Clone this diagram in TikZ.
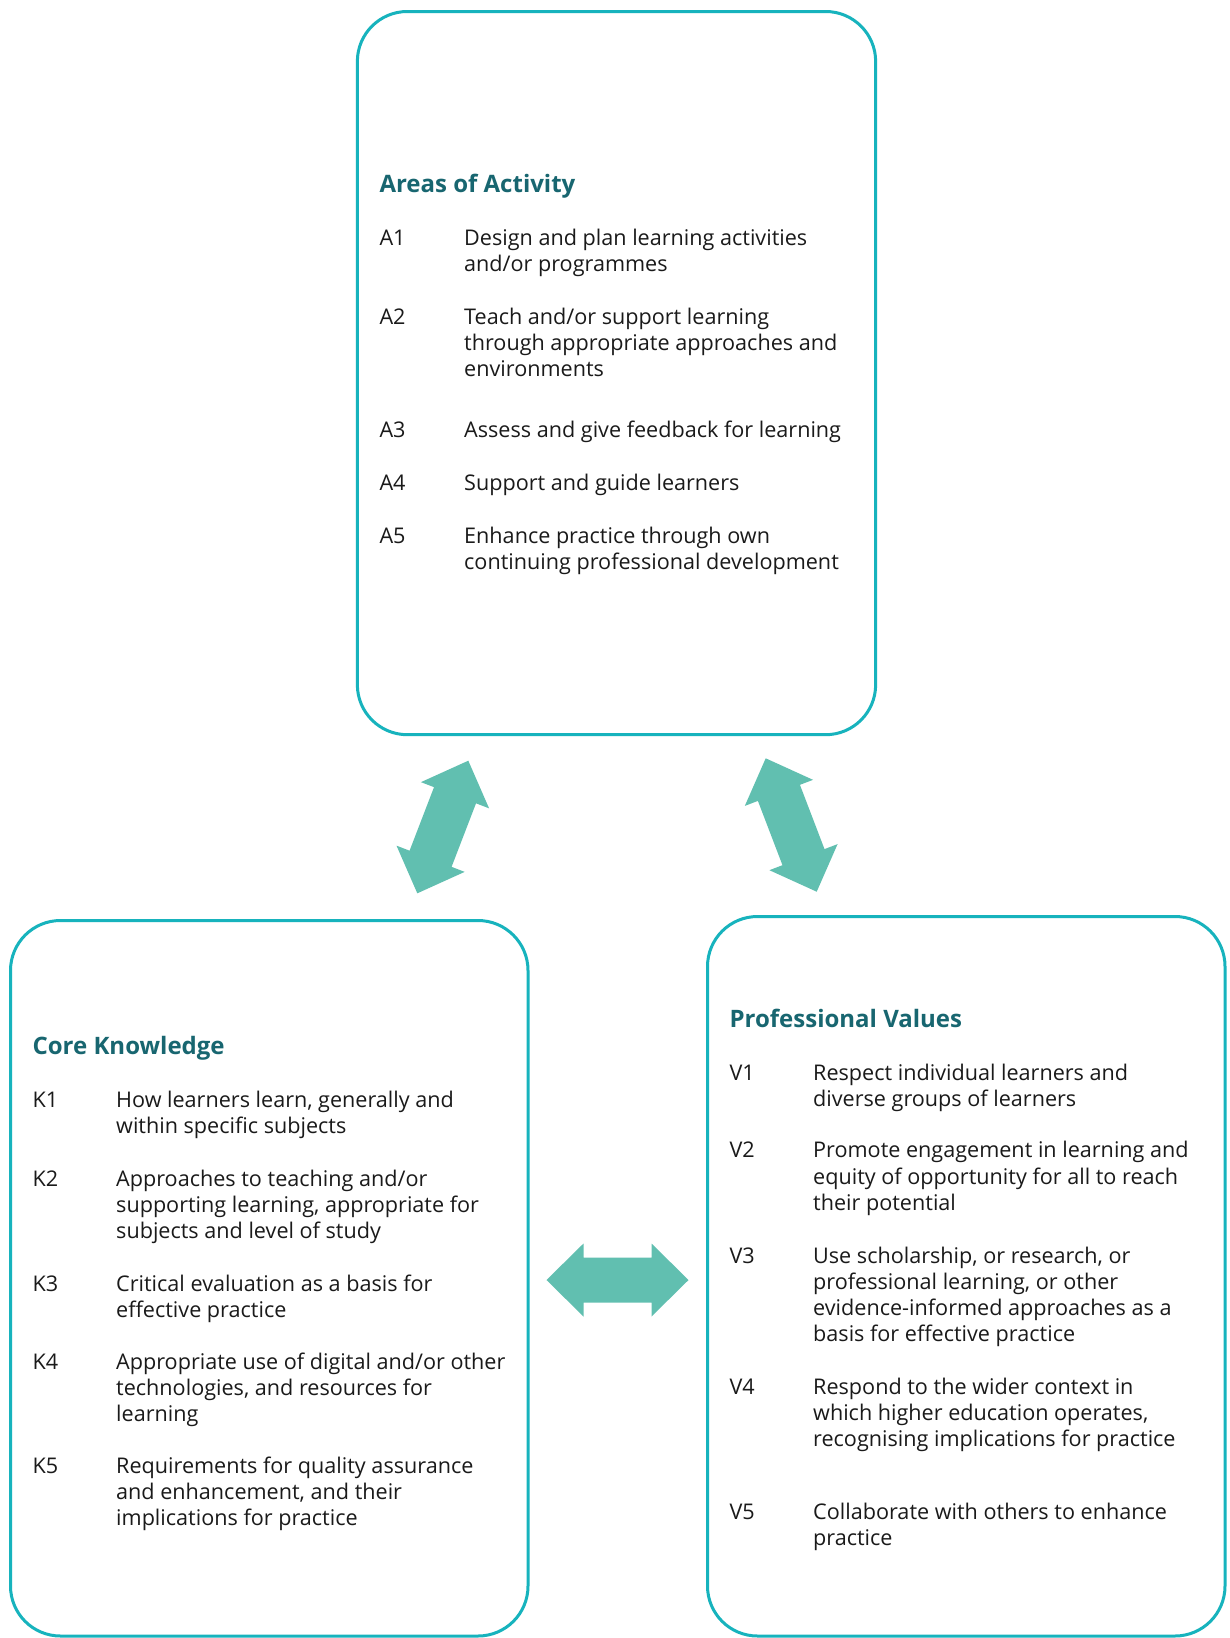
\documentclass[tikz,border=0pt]{standalone}
\usepackage{fontspec}
\setmainfont{Open Sans}
\usetikzlibrary{calc}
\definecolor{boxline}{RGB}{23,179,189}
\definecolor{headc}{RGB}{24,102,112}
\definecolor{arrowc}{RGB}{97,191,176}
\definecolor{textc}{RGB}{26,26,26}
\newcommand{\dblarrow}[2]{%
 \fill[arrowc] (#1)
 -- ($(#1)!37pt!(#2)!36.5pt!90:(#2)$)
 -- ($(#1)!37pt!(#2)!22.5pt!90:(#2)$)
 -- ($(#2)!37pt!(#1)!22.5pt!-90:(#1)$)
 -- ($(#2)!37pt!(#1)!36.5pt!-90:(#1)$)
 -- (#2)
 -- ($(#2)!37pt!(#1)!36.5pt!90:(#1)$)
 -- ($(#2)!37pt!(#1)!22.5pt!90:(#1)$)
 -- ($(#1)!37pt!(#2)!22.5pt!-90:(#2)$)
 -- ($(#1)!37pt!(#2)!36.5pt!-90:(#2)$)
 -- cycle;}
\newcommand{\lines}[1]{\parbox[t]{440pt}{#1}}
\begin{document}
\begin{tikzpicture}[x=1pt,y=-1pt,
  areabox/.style={draw=boxline, line width=3pt, rounded corners=50pt, fill=none, inner sep=0pt},
  head/.style={anchor=base west, inner sep=0pt, text=headc, font=\fontsize{24}{30}\selectfont\bfseries},
  lab/.style={anchor=base west, inner sep=0pt, text=textc, font=\fontsize{21.6}{26.1}\selectfont},
  txt/.style={anchor=base west, inner sep=0pt, text=textc, font=\fontsize{21.6}{26.1}\selectfont}]
\fill[white] (0,0) rectangle (1230,1638);
\useasboundingbox (0,0) rectangle (1230,1638);

% boxes
\node[areabox, minimum width=518.3pt, minimum height=723.2pt] (act) at (616.5,373.1) {};
\node[areabox, minimum width=517.5pt, minimum height=715.5pt] (know) at (269.25,1278.25) {};
\node[areabox, minimum width=517.5pt, minimum height=719.5pt] (val) at (966.25,1276.25) {};

% arrows
\coordinate (la1) at (468.3,760.7);
\coordinate (la2) at (417.3,893.3);
\coordinate (ra1) at (765.7,758.3);
\coordinate (ra2) at (816.7,891.7);
\coordinate (ha1) at (546.5,1280);
\coordinate (ha2) at (688.5,1280);
\dblarrow{la1}{la2}
\dblarrow{ra1}{ra2}
\dblarrow{ha1}{ha2}

% Areas of Activity
\node[head] (acth) at (379.3,192.8) {Areas of Activity};
\node[lab] (a1l) at (379.3,245.6) {A1};
\node[txt] (a1t) at (464,245.6) {\lines{Design and plan learning activities\\and/or programmes}};
\node[lab] (a2l) at (379.3,324.0) {A2};
\node[txt] (a2t) at (464,324.0) {\lines{Teach and/or support learning\\through appropriate approaches and\\environments}};
\node[lab] (a3l) at (379.3,437.9) {A3};
\node[txt] (a3t) at (464,437.9) {\lines{Assess and give feedback for learning}};
\node[lab] (a4l) at (379.3,490.1) {A4};
\node[txt] (a4t) at (464,490.1) {\lines{Support and guide learners}};
\node[lab] (a5l) at (379.3,543.4) {A5};
\node[txt] (a5t) at (464,543.4) {\lines{Enhance practice through own\\continuing professional development}};

% Core Knowledge
\node[head] (knowh) at (32.4,1054.9) {Core Knowledge};
\node[lab] (k1l) at (32.4,1107.7) {K1};
\node[txt] (k1t) at (116,1107.7) {\lines{How learners learn, generally and\\within specific subjects}};
\node[lab] (k2l) at (32.4,1186.1) {K2};
\node[txt] (k2t) at (116,1186.1) {\lines{Approaches to teaching and/or\\supporting learning, appropriate for\\subjects and level of study}};
\node[lab] (k3l) at (32.4,1291.7) {K3};
\node[txt] (k3t) at (116,1291.7) {\lines{Critical evaluation as a basis for\\effective practice}};
\node[lab] (k4l) at (32.4,1369.0) {K4};
\node[txt] (k4t) at (116,1369.0) {\lines{Appropriate use of digital and/or other\\technologies, and resources for\\learning}};
\node[lab] (k5l) at (32.4,1473.5) {K5};
\node[txt] (k5t) at (116,1473.5) {\lines{Requirements for quality assurance\\and enhancement, and their\\implications for practice}};

% Professional Values
\node[head] (valh) at (729.4,1027.8) {Professional Values};
\node[lab] (v1l) at (729.4,1080.6) {V1};
\node[txt] (v1t) at (813,1080.6) {\lines{Respect individual learners and\\diverse groups of learners}};
\node[lab] (v2l) at (729.4,1157.9) {V2};
\node[txt] (v2t) at (813,1157.9) {\lines{Promote engagement in learning and\\equity of opportunity for all to reach\\their potential}};
\node[lab] (v3l) at (729.4,1263.4) {V3};
\node[txt] (v3t) at (813,1263.4) {\lines{Use scholarship, or research, or\\professional learning, or other\\evidence-informed approaches as a\\basis for effective practice}};
\node[lab] (v4l) at (729.4,1394.1) {V4};
\node[txt] (v4t) at (813,1394.1) {\lines{Respond to the wider context in\\which higher education operates,\\recognising implications for practice}};
\node[lab] (v5l) at (729.4,1519.5) {V5};
\node[txt] (v5t) at (813,1519.5) {\lines{Collaborate with others to enhance\\practice}};
\end{tikzpicture}
\end{document}
